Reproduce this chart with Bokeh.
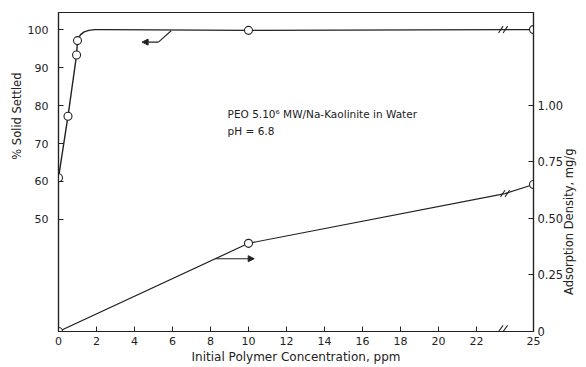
from math import pi
from bokeh.plotting import figure
from bokeh.models import (Range1d, LinearAxis, FixedTicker, Label, Arrow,
                          NormalHead, NumeralTickFormatter, Title)
from bokeh.embed import file_html
from bokeh.resources import INLINE

# ---- data ----
settled_x = [0, 0.5, 0.95, 1.0, 10, 25]
settled_y = [61, 77.2, 93.3, 97.1, 99.8, 100]
settled_curve_x = [0, 0.5, 0.95, 1.0, 1.15, 1.35, 1.6, 1.9, 2.5, 10, 25]
settled_curve_y = [61, 77.2, 93.3, 97.1, 98.6, 99.4, 99.8, 100, 100, 99.8, 100]
ads_x = [0, 10, 25]
ads_y = [0, 0.39, 0.65]
ads_line_x = [0, 10, 23.5, 25]
ads_line_y = [0, 0.39, 0.61, 0.65]
x_ticks = [0, 2, 4, 6, 8, 10, 12, 14, 16, 18, 20, 22, 25]
left_ticks = [50, 60, 70, 80, 90, 100]
right_ticks = [0, 0.25, 0.5, 0.75, 1.0]
break_x = 23.4

FONT = "DejaVu Sans"
INK = "#222222"

p = figure(width=586, height=367, x_range=Range1d(0, 25), y_range=Range1d(20.5, 104.5),
           output_backend="svg", toolbar_location=None,
           min_border_left=58, min_border_right=53, min_border_top=12, min_border_bottom=36)
p.extra_y_ranges = {"ads": Range1d(0, 1.411)}
p.xgrid.visible = False
p.ygrid.visible = False
p.outline_line_color = INK
p.outline_line_width = 1.2
p.background_fill_color = "white"
p.border_fill_color = "white"

def style_axis(ax, standoff, size="11px"):
    ax.axis_line_color = INK
    ax.axis_line_width = 1.2
    ax.major_tick_in = 5
    ax.major_tick_out = 0
    ax.minor_tick_line_color = None
    ax.major_tick_line_color = INK
    ax.major_label_text_font = FONT
    ax.major_label_text_font_size = size
    ax.major_label_text_color = INK
    ax.major_label_standoff = standoff

p.xaxis.ticker = FixedTicker(ticks=x_ticks)
style_axis(p.xaxis[0], 5)
p.yaxis.ticker = FixedTicker(ticks=left_ticks)
style_axis(p.yaxis[0], 10)

ry = LinearAxis(y_range_name="ads", ticker=FixedTicker(ticks=right_ticks),
                formatter=NumeralTickFormatter(format="0.00"),
                major_label_overrides={0: "0"})
style_axis(ry, 4, "11.5px")
right_title = "Adsorption Density, mg/g"
ry_props = ry.properties()
if "axis_label_align" in ry_props:
    ry.axis_label_align = "start"
    # leading no-break spaces lift the title off the bottom end of the axis
    ry.axis_label = "\u00a0" * 10 + right_title
else:
    ry.axis_label = right_title
ry.axis_label_orientation = pi / 2
ry.axis_label_text_font = FONT
ry.axis_label_text_font_size = "11.5px"
ry.axis_label_text_font_style = "normal"
ry.axis_label_text_color = INK
ry.axis_label_standoff = 3
p.add_layout(ry, "right")

# % solid settled curve
p.line(settled_curve_x, settled_curve_y, line_color=INK, line_width=1.4)
p.scatter(settled_x, settled_y, size=8, marker="circle", fill_color="white",
          line_color=INK, line_width=1.1)

# adsorption line
p.line(ads_line_x, ads_line_y, line_color=INK, line_width=1.2, y_range_name="ads")
p.scatter(ads_x, ads_y, size=8, marker="circle", fill_color="white",
          line_color=INK, line_width=1.1, y_range_name="ads")

# break marks
for dx in (-0.12, 0.12):
    p.segment(x0=[break_x + dx - 0.12], y0=[20.5], x1=[break_x + dx + 0.12], y1=[20.5 + 1.6],
              line_color=INK, line_width=1.1)
    p.segment(x0=[break_x + dx - 0.12], y0=[100 - 0.9], x1=[break_x + dx + 0.12], y1=[100 + 0.9],
              line_color=INK, line_width=1.1)
    p.segment(x0=[break_x + 0.1 + dx - 0.12], y0=[0.595], x1=[break_x + 0.1 + dx + 0.12], y1=[0.625],
              line_color=INK, line_width=1.1, y_range_name="ads")

# pointer arrows
p.line([5.93, 5.26], [99.7, 96.7], line_color=INK, line_width=1.1)
p.add_layout(Arrow(x_start=5.26, y_start=96.7, x_end=4.4, y_end=96.7,
                   line_color=INK, line_width=1.1,
                   end=NormalHead(size=6, fill_color=INK, line_color=INK)))
p.add_layout(Arrow(x_start=8.26, y_start=0.322, x_end=10.3, y_end=0.322,
                   line_color=INK, line_width=1.1, y_range_name="ads",
                   end=NormalHead(size=6, fill_color=INK, line_color=INK)))

# annotation text
p.add_layout(Label(x=8.9, y=77.8, text="PEO 5.10⁶ MW/Na-Kaolinite in Water",
                   text_font=FONT, text_font_size="10.5px", text_color=INK,
                   text_baseline="middle"))
p.add_layout(Label(x=8.9, y=73.4, text="pH = 6.8",
                   text_font=FONT, text_font_size="10.5px", text_color=INK,
                   text_baseline="middle"))

# axis titles
p.add_layout(Title(text="% Solid Settled", align="right", offset=60,
                   text_font=FONT, text_font_size="11.5px", text_font_style="normal",
                   text_color=INK, standoff=2), "left")
p.add_layout(Title(text="Initial Polymer Concentration, ppm", align="center",
                   text_font=FONT, text_font_size="12px", text_font_style="normal",
                   text_color=INK, standoff=0), "below")

open("out.html", "w").write(file_html(p, INLINE))
